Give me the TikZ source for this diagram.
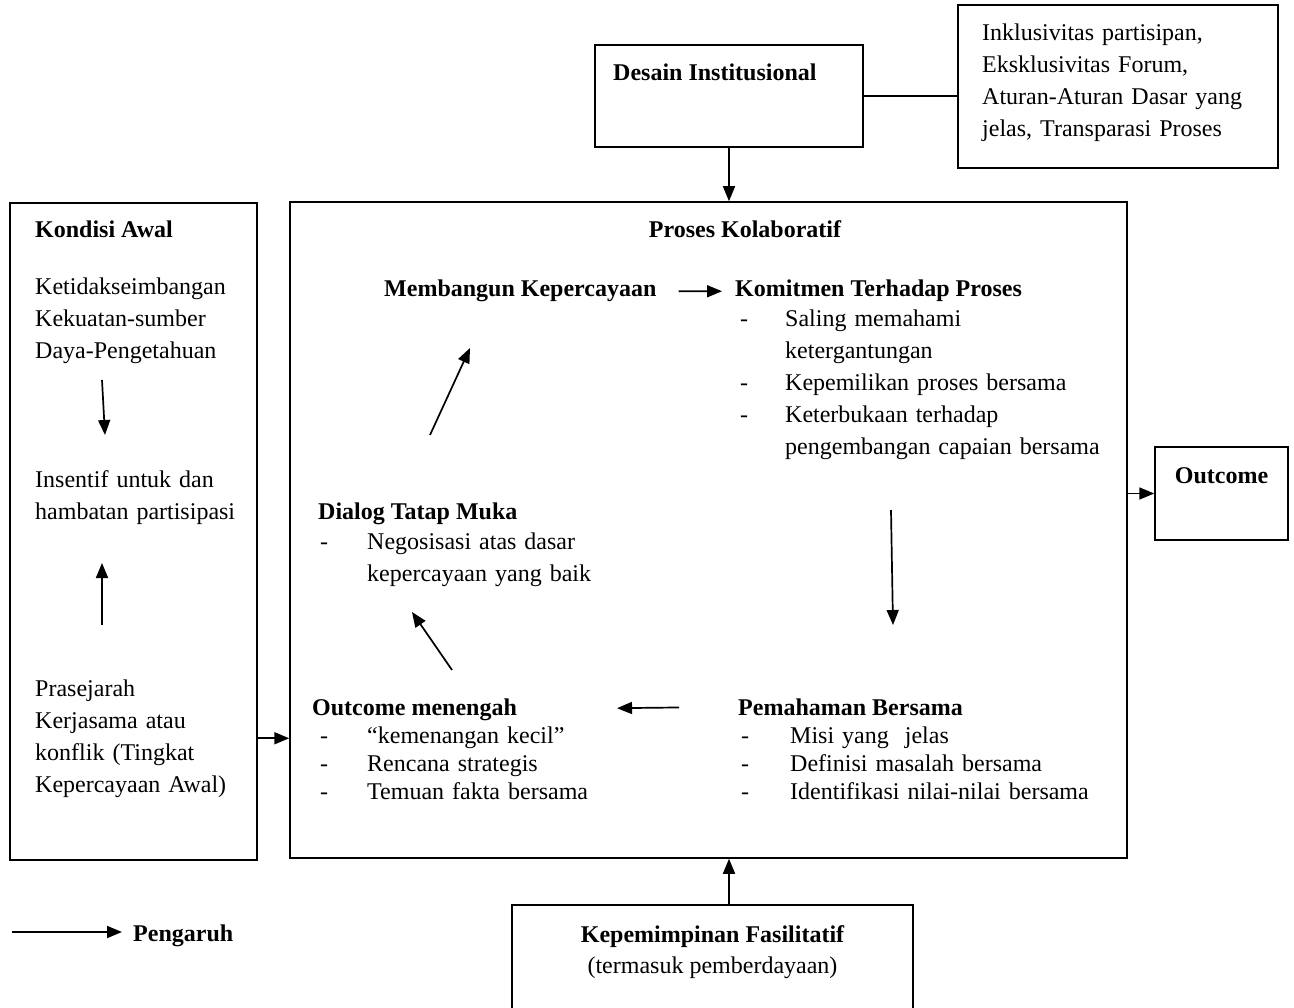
\documentclass[tikz,border=0pt]{standalone}
\usepackage{fontspec}
\setmainfont{Liberation Serif}
\usetikzlibrary{arrows.meta,positioning}
\newcommand{\butir}[2][46pt]{\makebox[#1][l]{-}#2}

\begin{document}
\begin{tikzpicture}[x=1pt, y=-1pt,
  box/.style={draw=black, line width=1.5pt},
  txt/.style={inner sep=0pt, anchor=base west, align=left,
              font=\fontsize{24}{32}\selectfont},
  blk/.style={txt, text width=#1},
  hd/.style={txt, font=\fontsize{24}{32}\selectfont\bfseries},
  arr/.style={-{Triangle[length=15pt,width=12pt]}, line width=1.7pt}]
\useasboundingbox (0,0) rectangle (1294,1008);
% kotak
\node[box, minimum width=268pt, minimum height=102pt] (desain) at (729,96) {};
\node[box, minimum width=320pt, minimum height=163pt] (kriteria) at (1118,86.5) {};
\node[box, minimum width=247pt, minimum height=657pt] (kondisi) at (133.5,531.5) {};
\node[box, minimum width=837pt, minimum height=656pt] (proses) at (708.5,530) {};
\node[box, minimum width=133pt, minimum height=93pt] (outcome) at (1221.5,493.5) {};
\node[box, minimum width=401pt, minimum height=107pt] (pimpin) at (712.5,958.5) {};
% teks
\node[hd] (desaintxt) at (613,81) {Desain Institusional};
\node[blk=310pt] (kriteriatxt) at (982,41) {Inklusivitas partisipan,\\Eksklusivitas Forum,\\Aturan-Aturan Dasar yang\\jelas, Transparasi Proses};
\node[hd] (kondisitxt) at (35,238) {Kondisi Awal};
\node[blk=220pt] (timpang) at (35,295) {Ketidakseimbangan\\Kekuatan-sumber\\Daya-Pengetahuan};
\node[blk=220pt] (insentif) at (35,487) {Insentif untuk dan\\hambatan partisipasi};
\node[blk=220pt] (prasejarah) at (35,696) {Prasejarah\\Kerjasama atau\\konflik (Tingkat\\Kepercayaan Awal)};
\node[hd, anchor=base] (prosestxt) at (745,238) {Proses Kolaboratif};
\node[hd] (membangun) at (384,297) {Membangun Kepercayaan};
\node[hd] (komitmen) at (735,297) {Komitmen Terhadap Proses};
\node[blk=380pt] (komitlist) at (740,327) {\butir[45pt]{Saling memahami}\\\hspace*{45pt}ketergantungan\\\butir[45pt]{Kepemilikan proses bersama}\\\butir[45pt]{Keterbukaan terhadap}\\\hspace*{45pt}pengembangan capaian bersama};
\node[hd] (dialog) at (318,519) {Dialog Tatap Muka};
\node[blk=300pt] (dialoglist) at (320,549) {\butir[47pt]{Negosisasi atas dasar}\\\hspace*{47pt}kepercayaan yang baik};
\node[hd] (outmen) at (312,715) {Outcome menengah};
\node[blk=300pt] (outmenlist) at (320,743) {\butir[47pt]{``kemenangan kecil''}\\[-4pt]\butir[47pt]{Rencana strategis}\\[-4pt]\butir[47pt]{Temuan fakta bersama}};
\node[hd] (paham) at (738,715) {Pemahaman Bersama};
\node[blk=380pt] (pahamlist) at (741,743) {\butir[49pt]{Misi yang\ \ jelas}\\[-4pt]\butir[49pt]{Definisi masalah bersama}\\[-4pt]\butir[49pt]{Identifikasi nilai-nilai bersama}};
\node[hd, anchor=base] (outcometxt) at (1221.5,483) {Outcome};
\node[hd, anchor=base] (pimpintxt) at (712.5,942) {Kepemimpinan Fasilitatif};
\node[txt, anchor=base] (pimpinsub) at (712.5,973) {(termasuk pemberdayaan)};
\node[hd] (pengaruh) at (133,941) {Pengaruh};
% titik ujung panah bebas
\coordinate (k1a) at (102,380); \coordinate (k1b) at (105,435);
\coordinate (k2a) at (102,625); \coordinate (k2b) at (102,563);
\coordinate (p1a) at (891,510); \coordinate (p1b) at (893,625);
\coordinate (p2a) at (452,670); \coordinate (p2b) at (412,612);
\coordinate (p3a) at (430,435); \coordinate (p3b) at (470,348);
\coordinate (legstart) at (12,932);
% panah
\draw[box] (desain.east) -- (desain.east -| kriteria.west);
\draw[arr] (desain.south) -- (desain.south |- proses.north);
\draw[arr] (pimpin.north -| desain.south) -- (proses.south -| desain.south);
\draw[arr] (kondisi.east |- prasejarah) -- (proses.west |- prasejarah);
\draw[arr] (proses.east |- outcome.west) -- (outcome.west);
\draw[arr] (k1a) -- (k1b);
\draw[arr] (k2a) -- (k2b);
\draw[arr, shorten <=22pt, shorten >=13pt] (membangun.east) -- (komitmen.west);
\draw[arr] (p1a) -- (p1b);
\draw[arr, shorten <=59pt, shorten >=100pt] (paham.west) -- (outmen.east);
\draw[arr] (p2a) -- (p2b);
\draw[arr] (p3a) -- (p3b);
\draw[arr] (legstart) -- ([xshift=-11pt]legstart -| pengaruh.west);
\end{tikzpicture}
\end{document}
